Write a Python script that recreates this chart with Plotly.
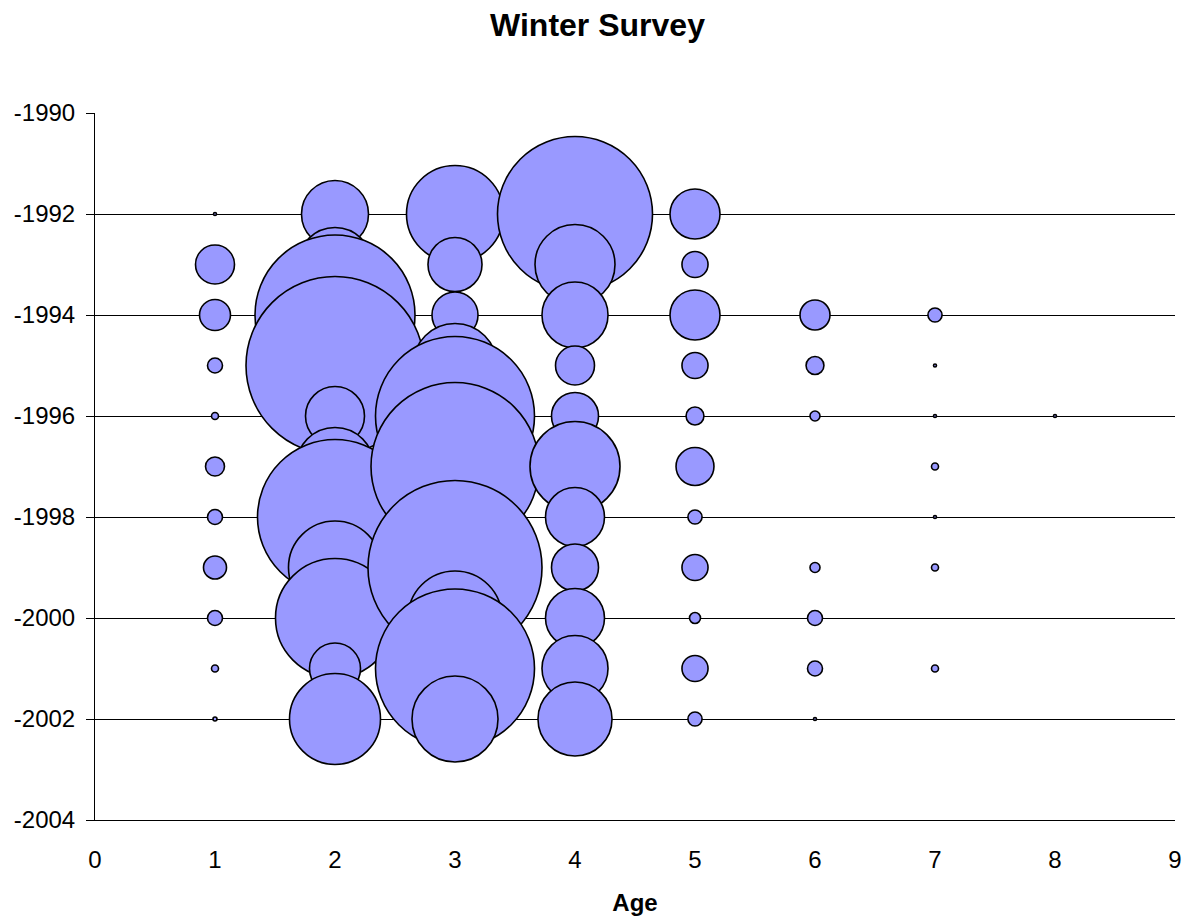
import plotly.graph_objects as go

# Survey years (plotted downward as negative values) and ages
years = [1992, 1993, 1994, 1995, 1996, 1997, 1998, 1999, 2000, 2001, 2002]
ages = [1, 2, 3, 4, 5, 6, 7, 8]

# Winter survey index at age, one value per year 1992-2002 (None = none caught)
age1 = [0.09, 15.2, 9.6, 2.25, 0.49, 3.6, 2.25, 5.3, 2.25, 0.49, 0.16]
age2 = [44.9, 54.8, 256.0, 316.8, 34.8, 60.8, 240.3, 86.5, 141.6, 26.0, 82.8]
age3 = [94.1, 29.2, 21.2, 70.6, 252.8, 282.2, 36.0, 302.8, 88.4, 252.8, 74.0]
age4 = [240.3, 64.0, 43.6, 15.2, 22.1, 81.0, 34.8, 22.1, 34.8, 43.6, 54.8]
age5 = [25.0, 6.8, 25.0, 6.8, 3.2, 14.4, 2.0, 6.8, 1.2, 6.8, 2.0]
age6 = [None, None, 9.0, 3.2, 1.0, None, None, 1.0, 2.25, 2.25, 0.09]
age7 = [None, None, 2.0, 0.09, 0.09, 0.49, 0.09, 0.49, None, 0.49, None]
age8 = [None, None, None, None, 0.09, None, None, None, None, None, None]

index_by_age = [age1, age2, age3, age4, age5, age6, age7, age8]

y_tickvals = [-1990, -1992, -1994, -1996, -1998, -2000, -2002, -2004]
y_ticktext = ["-1990", "-1992", "-1994", "-1996", "-1998", "-2000", "-2002", "-2004"]

FONT = "Liberation Sans, Arial, sans-serif"
FILL = "#9999FF"
MAX_DIAMETER = 178  # px for the largest bubble

max_val = max(v for series in index_by_age for v in series if v is not None)
sizeref = 2.0 * max_val / (MAX_DIAMETER ** 2)

fig = go.Figure()
for age, series in zip(ages, index_by_age):
    xs, ys, ss = [], [], []
    for yr, v in zip(years, series):
        if v is None or v <= 0:
            continue
        xs.append(age)
        ys.append(-yr)
        ss.append(v)
    fig.add_trace(go.Scatter(
        x=xs, y=ys, mode="markers",
        marker=dict(size=ss, sizemode="area", sizeref=sizeref,
                    color=FILL, opacity=1,
                    line=dict(color="black", width=1.6)),
        name=f"Age {age}", showlegend=False,
    ))

fig.update_layout(
    width=1195, height=924,
    margin=dict(l=95, r=20, t=113, b=104),
    paper_bgcolor="white", plot_bgcolor="white",
    font=dict(family=FONT, size=24, color="black"),
    title=dict(text="<b>Winter Survey</b>", x=0.5, xanchor="center",
               xref="container", yref="container",
               y=1 - 24.5 / 924, yanchor="middle",
               font=dict(family=FONT, size=32, color="black")),
    showlegend=False,
)

fig.update_xaxes(
    range=[0, 9], dtick=1, tick0=0,
    showgrid=False, zeroline=False,
    showline=True, linecolor="black", linewidth=1,
    ticks="", ticklabelstandoff=18,
    tickfont=dict(family=FONT, size=24, color="black"),
    title=dict(text="<b>Age</b>", standoff=22,
               font=dict(family=FONT, size=24, color="black")),
)

fig.update_yaxes(
    range=[-2004, -1990],
    tickvals=y_tickvals, ticktext=y_ticktext,
    showgrid=True, gridcolor="black", gridwidth=1,
    zeroline=False,
    showline=True, linecolor="black", linewidth=1,
    ticks="outside", ticklen=8, tickcolor="black", tickwidth=1,
    ticklabelstandoff=6,
    tickfont=dict(family=FONT, size=24, color="black"),
)

fig.write_html("out.html")
